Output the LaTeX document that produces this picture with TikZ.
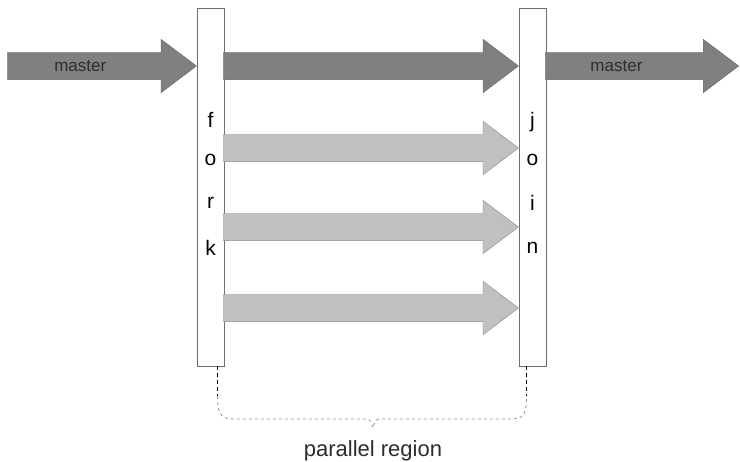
\documentclass[tikz,border=0pt]{standalone}
\usepackage{fontspec}
\setmainfont{Liberation Sans}
\usetikzlibrary{shapes.arrows,calc,positioning}

\definecolor{darkfill}{RGB}{128,128,128}
\definecolor{darkline}{RGB}{100,100,100}
\definecolor{lightfill}{RGB}{192,192,192}
\definecolor{lightline}{RGB}{140,140,140}
\definecolor{barline}{RGB}{110,110,110}
\definecolor{bracegray}{RGB}{150,150,150}
\definecolor{labelgray}{RGB}{45,45,45}

\tikzset{
  bar/.style={draw=barline, fill=white, minimum width=27pt, minimum height=358pt, inner sep=0pt},
  blockarrow/.style={single arrow, minimum width=53pt, single arrow head extend=13pt,
    single arrow tip angle=74, inner sep=0pt, text height=18.5pt, text depth=8.5pt, anchor=tip},
  darkarrow/.style={blockarrow, draw=darkline, fill=darkfill},
  lightarrow/.style={blockarrow, draw=lightline, fill=lightfill},
  masterlabel/.style={text=labelgray, font=\fontsize{17}{20}\selectfont},
  letter/.style={font=\fontsize{21}{24}\selectfont},
}

\begin{document}
\begin{tikzpicture}[x=1pt,y=-1pt]
    \useasboundingbox (0,0) rectangle (740,462);
    % fork and join bars
    \node[bar] (fork) at (210.5,187) {};
    \node[bar] (join) at (532.5,187) {};
    \foreach \l/\y in {f/120, o/160, r/203, k/248}
      \node[letter] (fork-\l) at (210.5,\y) {\l};
    \foreach \l/\y in {j/122, o/160, i/203, n/248}
      \node[letter] (join-\l) at (532.5,\y) {\l};
    % master thread
    \node[darkarrow, minimum height=189pt] (masterin) at (fork.west |- 0,66) {};
    \node[darkarrow, minimum height=295pt] (masterpar) at (join.west |- 0,66) {};
    \node[darkarrow, minimum height=193pt] (masterout) at (739,66) {};
    \node[masterlabel] (masterin-text) at ($(masterin.tail)+(73,0)$) {master};
    \node[masterlabel] (masterout-text) at ($(masterout.tail)+(71,0)$) {master};
    % worker threads
    \foreach \y/\n in {148/1, 227/2, 308/3}
      \node[lightarrow, minimum height=295pt] (worker\n) at (join.west |- 0,\y) {};
    % parallel region brace
    \coordinate (bl) at ($(fork.south)+(7,0)$);
    \coordinate (br) at ($(join.south)+(-6,0)$);
    \draw[dash pattern=on 4pt off 3pt, thick] (bl) -- ++(0,30) coordinate (bl2);
    \draw[dash pattern=on 4pt off 3pt, thick] (br) -- ++(0,30) coordinate (br2);
    \draw[bracegray, dashed, thick] (bl2) .. controls ++(0,20) and (222,419) .. (235,419)
      -- (364,419) .. controls (370,419) .. (373,428) coordinate (tip)
      .. controls (376,419) .. (382,419) -- (510,419)
      .. controls (523,419) and ($(br2)+(0,20)$) .. (br2);
    \node[font=\fontsize{22}{26}\selectfont, text=labelgray, below=9pt of tip] (plabel) {parallel region};
\end{tikzpicture}
\end{document}
